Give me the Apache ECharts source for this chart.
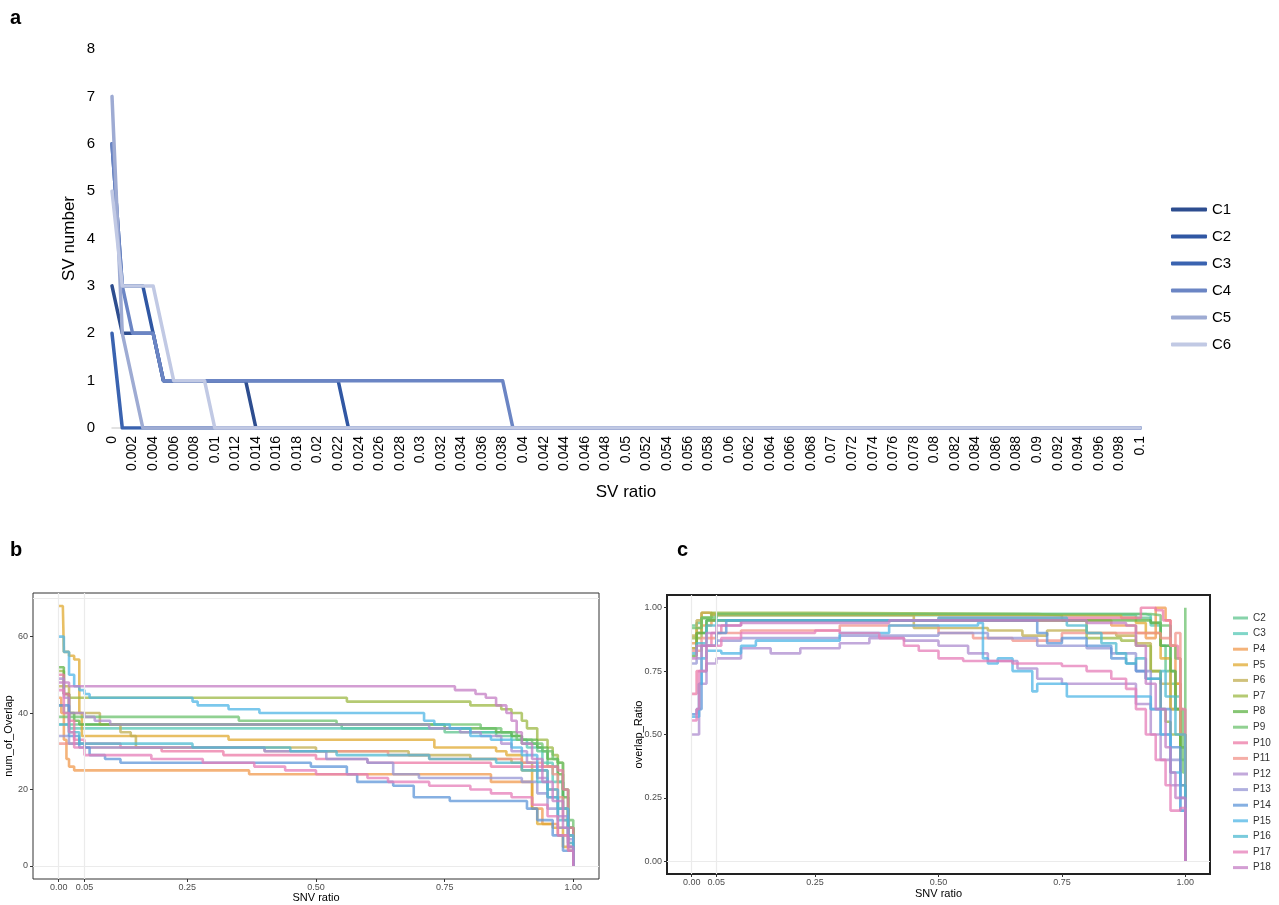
<!DOCTYPE html>
<html><head><meta charset="utf-8">
<script src="https://cdn.jsdelivr.net/npm/echarts@6/dist/echarts.min.js"></script>
<style>html,body{margin:0;padding:0;background:#fff;}#chart{width:1279px;height:905px;}</style>
</head><body><div id="chart"></div>
<script>
// ---------- Panel a : SV number vs SV ratio ----------
const aNames = ['C1', 'C2', 'C3', 'C4', 'C5', 'C6'];
const aColors = ['#2d4d8f', '#3057a3', '#3a63b0', '#6b85c4', '#9eabd3', '#c1c9e4'];
const aC1 = [[0,3],[0.001,2],[0.004,2],[0.005,1],[0.013,1],[0.014,0],[0.1,0]];
const aC2 = [[0,6],[0.001,3],[0.003,3],[0.004,2],[0.005,1],[0.022,1],[0.023,0],[0.1,0]];
const aC3 = [[0,2],[0.001,0],[0.1,0]];
const aC4 = [[0,6],[0.001,3],[0.002,2],[0.004,2],[0.005,1],[0.038,1],[0.039,0],[0.1,0]];
const aC5 = [[0,7],[0.001,2],[0.003,0],[0.1,0]];
const aC6 = [[0,5],[0.001,3],[0.004,3],[0.006,1],[0.009,1],[0.01,0],[0.1,0]];
const aData = [aC1, aC2, aC3, aC4, aC5, aC6];

// ---------- Panels b and c : groups ----------
const groups = ['C2','C3','P4','P5','P6','P7','P8','P9','P10','P11','P12','P13','P14','P15','P16','P17','P18'];
const groupColors = ['#5fc48e','#55c8b5','#f0994e','#e0a930','#c0ae50','#9cb844','#5fb345','#6cc26e',
  '#ec7aa5','#f2938a','#ad8ccf','#9695d4','#5d95d8','#4fb5e6','#4dbad0','#e67db8','#c47ec4'];
const bTicksX = [0, 0.05, 0.25, 0.5, 0.75, 1];
const bTicksY = [0, 20, 40, 60];
const cTicksY = [0, 0.25, 0.5, 0.75, 1];

// Panel b: num_of_Overlap
const bC2  = [[0,42],[0.01,40],[0.02,37],[0.55,36],[0.75,35],[0.85,34],[0.9,32],[0.93,30],[0.95,26],[0.97,22],[0.98,15],[0.99,8],[1,0]];
const bC3  = [[0,37],[0.02,36],[0.72,36],[0.8,35],[0.88,33],[0.91,31],[0.94,27],[0.96,22],[0.98,15],[0.99,10],[1,0]];
const bP4  = [[0,44],[0.005,40],[0.01,33],[0.015,28],[0.02,26],[0.03,25],[0.37,24],[0.84,22],[0.92,15],[0.94,11],[0.97,8],[0.99,4],[1,0]];
const bP5  = [[0,68],[0.008,68],[0.01,56],[0.02,55],[0.03,54],[0.04,40],[0.045,34],[0.33,33],[0.73,31],[0.85,30],[0.87,29],[0.9,25],[0.92,15],[0.93,11],[0.96,10],[0.98,5],[1,0]];
const bP6  = [[0,47],[0.02,40],[0.08,37],[0.12,35],[0.14,34],[0.15,31],[0.5,30],[0.68,29],[0.8,28],[0.88,27],[0.92,25],[0.95,20],[0.97,15],[0.99,8],[1,0]];
const bP7  = [[0,51],[0.01,45],[0.02,44],[0.56,43],[0.8,42],[0.86,41],[0.88,40],[0.9,38],[0.91,36],[0.93,33],[0.95,31],[0.96,29],[0.97,27],[0.98,20],[0.99,10],[1,0]];
const bP8  = [[0,52],[0.01,45],[0.02,40],[0.03,38],[0.04,37],[0.75,36],[0.85,35],[0.88,34],[0.9,33],[0.93,31],[0.95,28],[0.97,24],[0.98,18],[0.99,10],[1,0]];
const bP9  = [[0,39],[0.02,39],[0.35,38],[0.54,37],[0.82,36],[0.86,35],[0.89,33],[0.92,32],[0.94,30],[0.96,28],[0.97,27],[0.98,20],[0.99,12],[1,0]];
const bP10 = [[0,50],[0.01,45],[0.02,38],[0.03,33],[0.05,32],[0.12,31],[0.2,30],[0.32,29],[0.5,28],[0.6,27],[0.84,26],[0.95,26],[0.97,25],[0.98,20],[0.99,10],[1,0]];
const bP11 = [[0,32],[0.05,31],[0.4,30],[0.64,29],[0.72,28],[0.9,27],[0.94,26],[0.96,24],[0.97,18],[0.98,12],[0.99,6],[1,0]];
const bP12 = [[0,49],[0.01,44],[0.02,40],[0.05,39],[0.07,38],[0.1,37],[0.72,36],[0.78,35],[0.82,34],[0.86,32],[0.88,30],[0.91,27],[0.93,23],[0.95,18],[0.97,13],[0.99,7],[1,0]];
const bP13 = [[0,34],[0.02,32],[0.05,31],[0.4,30],[0.52,28],[0.6,27],[0.65,24],[0.7,23],[0.9,22],[0.93,19],[0.95,15],[0.97,10],[0.99,5],[1,0]];
const bP14 = [[0,42],[0.02,34],[0.04,31],[0.06,29],[0.09,28],[0.12,27],[0.49,26],[0.56,24],[0.58,22],[0.65,21],[0.69,18],[0.76,17],[0.91,15],[0.93,12],[0.96,8],[0.98,4],[1,0]];
const bP15 = [[0,60],[0.01,56],[0.02,50],[0.03,47],[0.04,46],[0.05,45],[0.06,44],[0.26,43],[0.27,42],[0.33,41],[0.39,40],[0.71,38],[0.73,37],[0.76,36],[0.8,34],[0.84,33],[0.88,31],[0.9,29],[0.93,25],[0.95,20],[0.97,15],[0.99,8],[1,0]];
const bP16 = [[0,37],[0.02,35],[0.04,32],[0.26,31],[0.45,30],[0.54,29],[0.72,28],[0.85,27],[0.9,25],[0.93,22],[0.95,18],[0.97,12],[0.99,6],[1,0]];
const bP17 = [[0,46],[0.01,40],[0.02,35],[0.03,31],[0.05,29],[0.18,28],[0.28,27],[0.38,26],[0.44,25],[0.5,24],[0.6,23],[0.64,22],[0.72,21],[0.8,20],[0.84,19],[0.88,18],[0.92,16],[0.95,13],[0.97,8],[0.99,4],[1,0]];
const bP18 = [[0,48],[0.02,47],[0.77,46],[0.81,45],[0.83,44],[0.85,42],[0.87,40],[0.88,38],[0.89,35],[0.9,32],[0.92,28],[0.94,22],[0.96,17],[0.98,10],[0.99,5],[1,0]];
const bData = [bC2,bC3,bP4,bP5,bP6,bP7,bP8,bP9,bP10,bP11,bP12,bP13,bP14,bP15,bP16,bP17,bP18];

// Panel c: overlap_Ratio
const cC2  = [[0,0.93],[0.01,0.94],[0.02,0.96],[0.04,0.97],[0.9,0.96],[0.93,0.94],[0.95,0.85],[0.96,0.75],[0.97,0.7],[0.98,0.6],[0.99,0.4],[1,0]];
const cC3  = [[0,0.84],[0.01,0.9],[0.03,0.95],[0.05,0.975],[0.92,0.97],[0.93,0.93],[0.95,0.85],[0.97,0.75],[0.98,0.65],[0.99,0.45],[1,0.05]];
const cP4  = [[0,0.86],[0.01,0.9],[0.02,0.93],[0.04,0.95],[0.85,0.93],[0.9,0.9],[0.92,0.88],[0.94,1.0],[0.96,0.95],[0.97,0.85],[0.98,0.7],[0.99,0.5],[1,0]];
const cP5  = [[0,0.84],[0.01,0.92],[0.02,0.98],[0.035,0.975],[0.05,0.97],[0.87,0.96],[0.9,0.94],[0.92,0.9],[0.95,0.8],[0.97,0.6],[0.98,0.7],[0.99,0.5],[1,0]];
const cP6  = [[0,0.89],[0.01,0.95],[0.02,0.98],[0.04,0.97],[0.45,0.92],[0.6,0.91],[0.67,0.89],[0.72,0.91],[0.8,0.9],[0.86,0.89],[0.9,0.86],[0.93,0.75],[0.95,0.7],[0.97,0.6],[0.99,0.45],[1,0]];
const cP7  = [[0,0.88],[0.02,0.96],[0.04,0.98],[0.25,0.975],[0.7,0.97],[0.75,0.95],[0.8,0.88],[0.87,0.87],[0.9,0.85],[0.93,0.75],[0.95,0.6],[0.96,0.55],[0.97,0.5],[0.99,0.3],[1,0]];
const cP8  = [[0,0.81],[0.01,0.9],[0.03,0.95],[0.93,0.94],[0.95,0.85],[0.97,0.75],[0.98,0.6],[0.99,0.45],[1,0.25]];
const cP9  = [[0,0.92],[0.02,0.96],[0.05,0.975],[0.93,0.97],[0.95,0.93],[0.97,0.85],[0.98,0.8],[0.99,0.6],[0.995,0.35],[1,1.0]];
const cP10 = [[0,0.66],[0.01,0.75],[0.02,0.85],[0.04,0.9],[0.06,0.93],[0.1,0.95],[0.5,0.96],[0.91,1.0],[0.94,0.99],[0.955,0.95],[0.97,0.85],[0.985,0.8],[0.99,0.6],[1,0]];
const cP11 = [[0,0.83],[0.02,0.88],[0.05,0.9],[0.1,0.91],[0.3,0.93],[0.5,0.9],[0.57,0.88],[0.65,0.87],[0.75,0.9],[0.95,0.88],[0.97,0.85],[0.98,0.9],[0.99,0.5],[1,0.05]];
const cP12 = [[0,0.5],[0.01,0.5],[0.015,0.7],[0.03,0.78],[0.05,0.8],[0.1,0.84],[0.16,0.82],[0.22,0.84],[0.3,0.86],[0.36,0.88],[0.43,0.87],[0.5,0.85],[0.56,0.82],[0.6,0.79],[0.66,0.76],[0.7,0.72],[0.75,0.7],[0.87,0.7],[0.9,0.62],[0.93,0.5],[0.95,0.4],[0.97,0.3],[0.99,0.2],[1,0.05]];
const cP13 = [[0,0.78],[0.01,0.8],[0.02,0.85],[0.05,0.87],[0.1,0.88],[0.3,0.89],[0.5,0.9],[0.6,0.88],[0.7,0.85],[0.8,0.84],[0.85,0.82],[0.9,0.75],[0.93,0.6],[0.95,0.5],[0.97,0.4],[0.99,0.25],[1,0.1]];
const cP14 = [[0,0.58],[0.01,0.6],[0.02,0.75],[0.03,0.85],[0.05,0.9],[0.07,0.95],[0.65,0.95],[0.7,0.9],[0.72,0.86],[0.75,0.88],[0.8,0.85],[0.85,0.8],[0.88,0.78],[0.9,0.75],[0.92,0.72],[0.95,0.6],[0.97,0.45],[0.99,0.3],[1,0]];
const cP15 = [[0,0.57],[0.01,0.57],[0.015,0.7],[0.02,0.8],[0.03,0.83],[0.06,0.82],[0.1,0.85],[0.13,0.87],[0.3,0.9],[0.4,0.93],[0.58,0.94],[0.59,0.8],[0.6,0.78],[0.62,0.8],[0.65,0.75],[0.69,0.67],[0.7,0.7],[0.76,0.65],[0.91,0.65],[0.93,0.6],[0.95,0.5],[0.97,0.35],[0.99,0.2],[1,0]];
const cP16 = [[0,0.82],[0.01,0.86],[0.03,0.93],[0.05,0.95],[0.5,0.96],[0.74,0.96],[0.76,0.93],[0.8,0.9],[0.83,0.86],[0.86,0.82],[0.88,0.78],[0.9,0.8],[0.92,0.72],[0.95,0.75],[0.96,0.65],[0.98,0.5],[1,0.1]];
const cP17 = [[0,0.555],[0.01,0.6],[0.015,0.75],[0.03,0.85],[0.06,0.88],[0.1,0.9],[0.25,0.91],[0.3,0.9],[0.38,0.88],[0.43,0.85],[0.46,0.83],[0.5,0.8],[0.55,0.79],[0.65,0.78],[0.75,0.77],[0.8,0.75],[0.85,0.72],[0.88,0.68],[0.9,0.6],[0.92,0.5],[0.94,0.4],[0.96,0.3],[0.97,0.2],[0.99,0.21],[1,0]];
const cP18 = [[0,0.8],[0.01,0.85],[0.03,0.9],[0.05,0.93],[0.1,0.94],[0.4,0.95],[0.8,0.94],[0.88,0.93],[0.9,0.85],[0.92,0.7],[0.94,0.6],[0.96,0.45],[0.97,0.35],[0.98,0.25],[1,0]];
const cData = [cC2,cC3,cP4,cP5,cP6,cP7,cP8,cP9,cP10,cP11,cP12,cP13,cP14,cP15,cP16,cP17,cP18];

// ---------- build ----------
const FONT = '"Liberation Sans", Arial, sans-serif';
const chart = echarts.init(document.getElementById('chart'), null, {renderer: 'canvas'});

const series = [];
aNames.forEach((n, i) => series.push({
  type: 'line', name: n, xAxisIndex: 0, yAxisIndex: 0, data: aData[i],
  symbol: 'none', showSymbol: false, z: 2 + i,
  lineStyle: {width: 3.5, color: aColors[i], cap: 'round', join: 'round'},
  itemStyle: {color: aColors[i]}
}));
const gridLineStyle = {color: '#ebebeb', width: 1.2, type: 'solid'};
series.push({type: 'line', name: 'bgrid', xAxisIndex: 1, yAxisIndex: 1, data: [], z: 1,
  markLine: {silent: true, symbol: 'none', label: {show: false}, lineStyle: gridLineStyle,
    data: [{xAxis: 0}, {xAxis: 0.05}, {yAxis: 0}, {yAxis: 70}]}});
series.push({type: 'line', name: 'cgrid', xAxisIndex: 2, yAxisIndex: 2, data: [], z: 1,
  markLine: {silent: true, symbol: 'none', label: {show: false}, lineStyle: gridLineStyle,
    data: [{xAxis: 0}, {xAxis: 0.05}, {yAxis: 0}]}});
groups.forEach((g, i) => series.push({
  type: 'line', name: 'b:' + g, xAxisIndex: 1, yAxisIndex: 1, data: bData[i], step: 'end',
  symbol: 'none', showSymbol: false, z: 3,
  lineStyle: {width: 2.6, color: groupColors[i], opacity: 0.75},
  itemStyle: {color: groupColors[i]}
}));
groups.forEach((g, i) => series.push({
  type: 'line', name: 'c:' + g, xAxisIndex: 2, yAxisIndex: 2, data: cData[i], step: 'end',
  symbol: 'none', showSymbol: false, z: 3,
  lineStyle: {width: 2.6, color: groupColors[i], opacity: 0.75},
  itemStyle: {color: groupColors[i]}
}));

const smallLabel = {fontSize: 9, color: '#4d4d4d', fontFamily: FONT};
const option = {
  backgroundColor: '#fff',
  animation: false,
  textStyle: {fontFamily: FONT},
  grid: [
    {left: 112, top: 49, width: 1028, height: 379, outerBoundsMode: 'none', containLabel: false},
    {left: 33, top: 593, width: 566, height: 286, show: true, borderColor: '#333', borderWidth: 1, backgroundColor: '#fff', outerBoundsMode: 'none', containLabel: false},
    {left: 667, top: 595, width: 543, height: 279, show: true, borderColor: '#222', borderWidth: 2, backgroundColor: '#fff', outerBoundsMode: 'none', containLabel: false}
  ],
  xAxis: [
    {gridIndex: 0, type: 'value', position: 'bottom', min: 0, max: 0.1, interval: 0.002,
      name: 'SV ratio', nameLocation: 'middle', nameGap: 56,
      nameTextStyle: {fontSize: 17, color: '#000', fontFamily: FONT},
      axisLine: {show: true, onZero: false, lineStyle: {color: '#d9d9d9', width: 1.5}},
      axisTick: {show: false}, splitLine: {show: false},
      axisLabel: {rotate: 90, fontSize: 14, color: '#000', margin: 8, hideOverlap: false, fontFamily: FONT,
        formatter: v => String(parseFloat(v.toFixed(3)))}},
    {gridIndex: 1, type: 'value', position: 'bottom', min: -0.05, max: 1.05,
      name: 'SNV ratio', nameLocation: 'middle', nameGap: 13,
      nameTextStyle: {fontSize: 11, color: '#000', fontFamily: FONT},
      axisLine: {show: false, onZero: false}, splitLine: {show: false},
      axisTick: {show: true, inside: false, length: 3, customValues: bTicksX, lineStyle: {color: '#333'}},
      axisLabel: Object.assign({customValues: bTicksX, margin: 4, hideOverlap: false, formatter: v => v.toFixed(2)}, smallLabel)},
    {gridIndex: 2, type: 'value', position: 'bottom', min: -0.05, max: 1.05,
      name: 'SNV ratio', nameLocation: 'middle', nameGap: 14,
      nameTextStyle: {fontSize: 11, color: '#000', fontFamily: FONT},
      axisLine: {show: false, onZero: false}, splitLine: {show: false},
      axisTick: {show: true, inside: false, length: 3, customValues: bTicksX, lineStyle: {color: '#333'}},
      axisLabel: Object.assign({customValues: bTicksX, margin: 4, hideOverlap: false, formatter: v => v.toFixed(2)}, smallLabel)}
  ],
  yAxis: [
    {gridIndex: 0, type: 'value', position: 'left', min: 0, max: 8, interval: 1,
      name: 'SV number', nameLocation: 'middle', nameGap: 34, nameRotate: 90, nameMoveOverlap: false,
      nameTextStyle: {fontSize: 17, color: '#000', fontFamily: FONT},
      axisLine: {show: false, onZero: false}, axisTick: {show: false}, splitLine: {show: false},
      axisLabel: {fontSize: 15, color: '#000', margin: 17, fontFamily: FONT}},
    {gridIndex: 1, type: 'value', position: 'left', min: -3.4, max: 71.4,
      name: 'num_of_Overlap', nameLocation: 'middle', nameGap: 15, nameRotate: 90,
      nameTextStyle: {fontSize: 11, color: '#000', fontFamily: FONT},
      axisLine: {show: false, onZero: false}, splitLine: {show: false},
      axisTick: {show: true, inside: false, length: 3, customValues: bTicksY, lineStyle: {color: '#333'}},
      axisLabel: Object.assign({customValues: bTicksY, margin: 5, hideOverlap: false}, smallLabel)},
    {gridIndex: 2, type: 'value', position: 'left', min: -0.05, max: 1.05,
      name: 'overlap_Ratio', nameLocation: 'middle', nameGap: 23, nameRotate: 90, nameMoveOverlap: false,
      nameTextStyle: {fontSize: 11, color: '#000', fontFamily: FONT},
      axisLine: {show: false, onZero: false}, splitLine: {show: false},
      axisTick: {show: true, inside: false, length: 3, customValues: cTicksY, lineStyle: {color: '#333'}},
      axisLabel: Object.assign({customValues: cTicksY, margin: 5, hideOverlap: false, formatter: v => v.toFixed(2)}, smallLabel)}
  ],
  legend: [
    {data: aNames, orient: 'vertical', left: 1171, top: 202, padding: 0, itemWidth: 36, itemHeight: 4, itemGap: 12,
      icon: 'roundRect', selectedMode: false,
      textStyle: {fontSize: 15, color: '#000', fontFamily: FONT}},
    {data: groups.map(g => 'c:' + g), orient: 'vertical', left: 1233, top: 613, padding: 0, itemWidth: 15, itemHeight: 3, itemGap: 5.6,
      icon: 'rect', selectedMode: false, itemStyle: {opacity: 0.75},
      formatter: n => n.slice(2),
      textStyle: {fontSize: 10, color: '#333', fontFamily: FONT}}
  ],
  graphic: [
    {type: 'text', left: 10, top: 8, style: {text: 'a', font: 'bold 20px ' + FONT, fill: '#000'}},
    {type: 'text', left: 10, top: 540, style: {text: 'b', font: 'bold 20px ' + FONT, fill: '#000'}},
    {type: 'text', left: 677, top: 540, style: {text: 'c', font: 'bold 20px ' + FONT, fill: '#000'}}
  ],
  series: series
};
chart.setOption(option);
</script></body></html>
